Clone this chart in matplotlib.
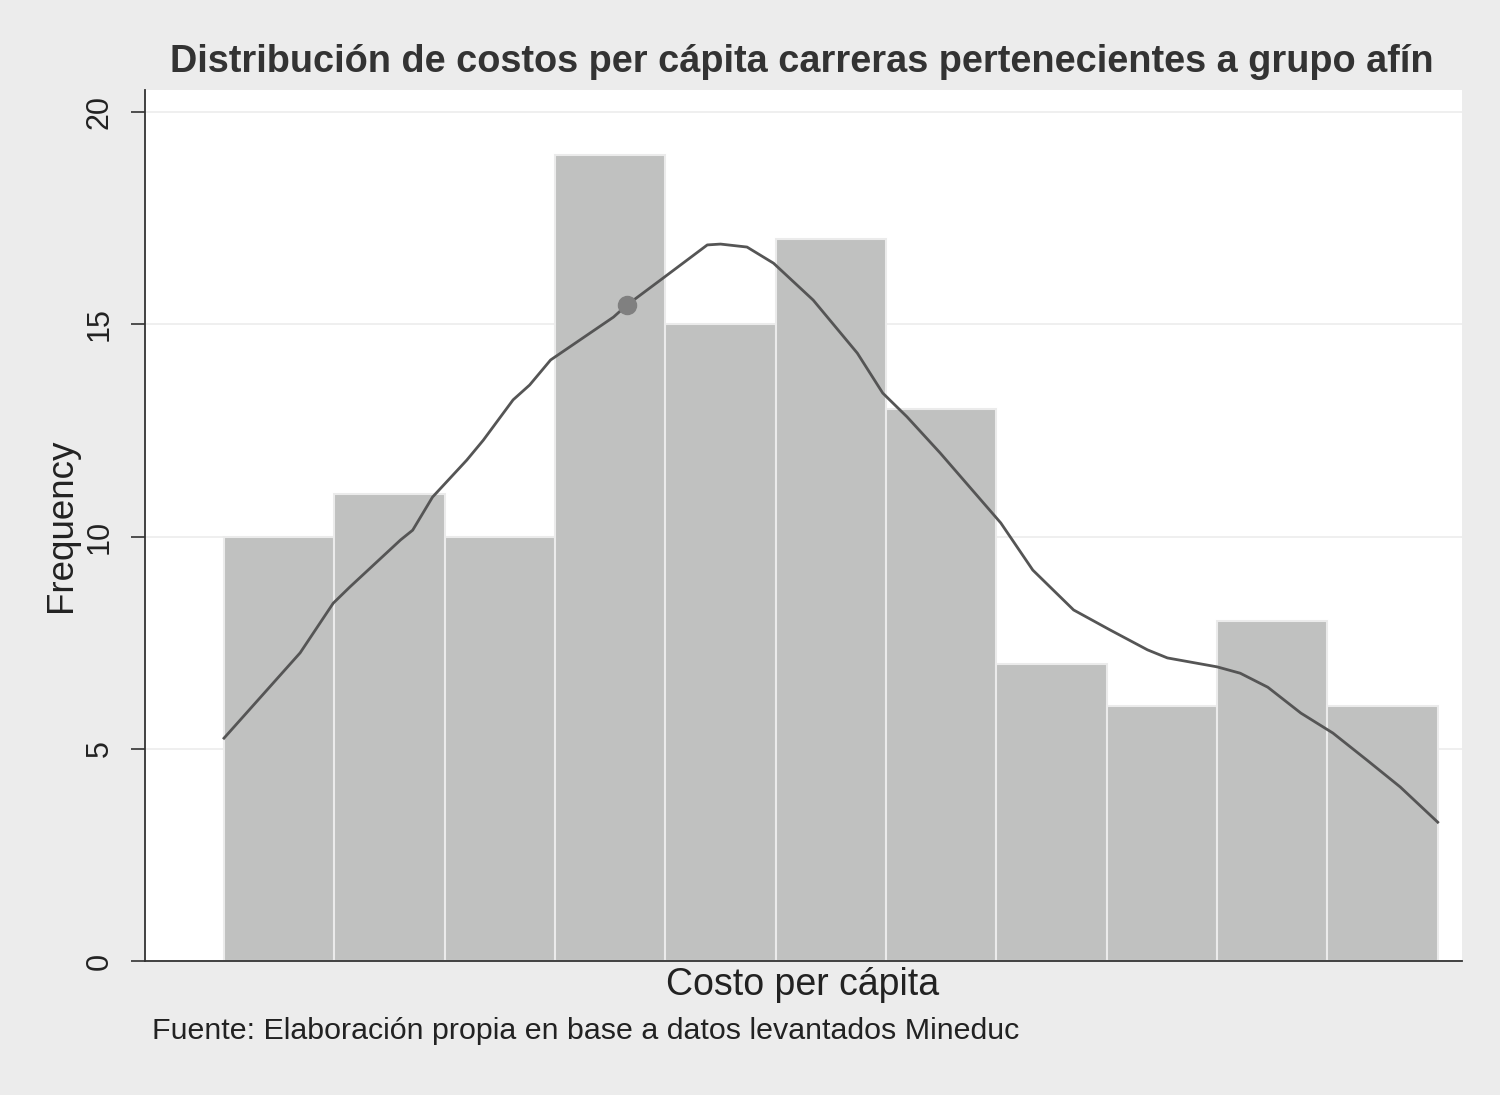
import matplotlib
matplotlib.use("Agg")
import matplotlib.pyplot as plt
import numpy as np

# Histogram data (bins indexed 0..11 along cost axis)
bin_edges = list(range(12))
frequencies = [10, 11, 10, 19, 15, 17, 13, 7, 6, 8, 6]

# Smooth (density-like) curve, in bin units / frequency
curve_x = [0.0, 0.69, 0.99, 1.14, 1.60, 1.71, 1.89, 2.20, 2.35, 2.62, 2.77, 2.96,
           3.53, 3.65, 3.98, 4.38, 4.50, 4.74, 4.98, 5.34, 5.74, 5.97, 6.19, 6.49,
           6.94, 7.04, 7.33, 7.70, 8.03, 8.37, 8.55, 9.00, 9.21, 9.46, 9.76, 10.05,
           10.36, 10.66, 11.0]
curve_y = [5.25, 7.26, 8.43, 8.81, 9.92, 10.15, 10.93, 11.80, 12.27, 13.22, 13.57, 14.16,
           15.17, 15.45, 16.09, 16.87, 16.89, 16.82, 16.44, 15.57, 14.32, 13.38, 12.82, 11.97,
           10.62, 10.32, 9.21, 8.27, 7.80, 7.33, 7.14, 6.93, 6.78, 6.45, 5.84, 5.37,
           4.73, 4.10, 3.27]

marker_x = [3.65]
marker_y = [15.45]

yticks = [0, 5, 10, 15, 20]

title = "Distribución de costos per cápita carreras pertenecientes a grupo afín"
xlabel = "Costo per cápita"
ylabel = "Frequency"
note = "Fuente: Elaboración propia en base a datos levantados Mineduc"

plt.rcParams['font.family'] = ['Liberation Sans', 'DejaVu Sans']

fig = plt.figure(figsize=(15, 10.95), dpi=100)
fig.patch.set_facecolor('#ececec')
ax = fig.add_axes([145/1500, 1-961/1095, (1462-145)/1500, (961-90)/1095])
ax.set_facecolor('white')

ax.set_axisbelow(True)
ax.grid(axis='y', color='#ececec', linewidth=1.2)
ax.grid(axis='x', visible=False)

lefts = bin_edges[:-1]
widths = [bin_edges[i+1]-bin_edges[i] for i in range(len(lefts))]
ax.bar(lefts, frequencies, width=widths, align='edge', color='#c0c1c0',
       edgecolor='#ebebeb', linewidth=1.5, zorder=2)

ax.plot(curve_x, curve_y, color='#555555', linewidth=2.0, zorder=3,
        solid_joinstyle='round')
ax.plot(marker_x, marker_y, 'o', color='#808080', markersize=13, zorder=4)

ax.set_xlim(-0.716, 11.22)
ax.set_ylim(0, 20.52)
ax.set_yticks(yticks)
ax.set_yticklabels([str(v) for v in yticks], rotation=90, va='center', fontsize=22, color='#222222')
ax.tick_params(axis='y', length=10, width=1.2, color='#333333', pad=12)
ax.set_xticks([])

for s in ['top', 'right']:
    ax.spines[s].set_visible(False)
for s in ['left', 'bottom']:
    ax.spines[s].set_color('#333333')
    ax.spines[s].set_linewidth(1.3)

fig.text(803/1500, 1-985/1095, xlabel, ha='center', va='center', fontsize=27, color='#222222')
fig.text(62/1500, 1-525/1095, ylabel, ha='center', va='center', rotation=90, fontsize=26.5, color='#222222')
fig.text(802/1500, 1-62/1095, title, ha='center', va='center', fontsize=27.3, fontweight='bold', color='#333333')
fig.text(152/1500, 1-1031/1095, note, ha='left', va='center', fontsize=21.9, color='#222222')

fig.savefig('out.png', dpi=100, facecolor=fig.get_facecolor())
